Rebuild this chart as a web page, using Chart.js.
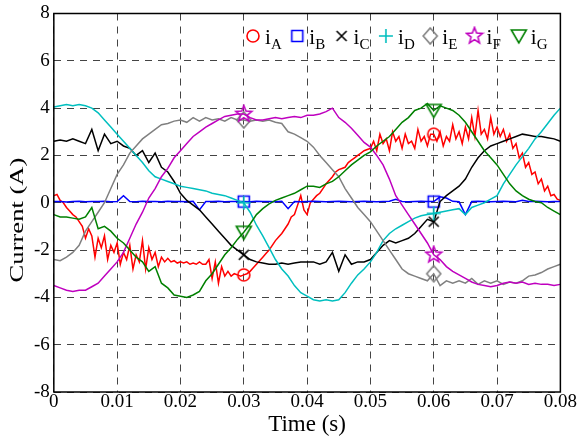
<!DOCTYPE html>
<html>
<head>
<meta charset="utf-8">
<script src="https://cdn.jsdelivr.net/npm/chart.js@4.4.1/dist/chart.umd.min.js"></script>
<style>
  html, body { margin: 0; padding: 0; background: #fff; }
</style>
</head>
<body>
<canvas id="myChart" width="578" height="437"></canvas>
<script>
// time axis in ms (1 ms step)
const timeMs = [0,1,2,3,4,5,6,7,8,9,10,11,12,13,14,15,16,17,18,19,20,21,22,23,24,25,26,27,28,29,30,
  31,32,33,34,35,36,37,38,39,40,41,42,43,44,45,46,47,48,49,50,51,52,53,54,55,56,57,58,59,60,
  61,62,63,64,65,66,67,68,69,70,71,72,73,74,75,76,77,78,79,80];

// iA is noisier, read at 0.5 ms
const timeMsFine = [0,0.5,1,1.5,2,2.5,3,3.5,4,4.5,5,5.5,6,6.5,7,7.5,8,8.5,9,9.5,
  10,10.5,11,11.5,12,12.5,13,13.5,14,14.5,15,15.5,16,16.5,17,17.5,18,18.5,19,19.5,
  20,20.5,21,21.5,22,22.5,23,23.5,24,24.5,25,25.5,26,26.5,27,27.5,28,28.5,29,29.5,
  30,30.5,31,31.5,32,32.5,33,33.5,34,34.5,35,35.5,36,36.5,37,37.5,38,38.5,39,39.5,
  40,40.5,41,41.5,42,42.5,43,43.5,44,44.5,45,45.5,46,46.5,47,47.5,48,48.5,49,49.5,
  50,50.5,51,51.5,52,52.5,53,53.5,54,54.5,55,55.5,56,56.5,57,57.5,58,58.5,59,59.5,
  60,60.5,61,61.5,62,62.5,63,63.5,64,64.5,65,65.5,66,66.5,67,67.5,68,68.5,69,69.5,
  70,70.5,71,71.5,72,72.5,73,73.5,74,74.5,75,75.5,76,76.5,77,77.5,78,78.5,79,79.5,80];

const iA = [0.3,0.35,0.1,0.0,-0.2,-0.35,-0.5,-0.6,-0.8,-1.0,
  -1.5,-1.1,-1.4,-2.3,-1.5,-1.9,-1.4,-2.4,-1.8,-2.1,
  -1.7,-2.6,-2.1,-2.4,-1.8,-2.8,-2.2,-2.5,-1.6,-2.8,
  -1.9,-2.4,-2.1,-2.7,-2.3,-2.5,-2.35,-2.5,-2.45,-2.55,
  -2.5,-2.55,-2.5,-2.6,-2.55,-2.6,-2.5,-2.6,-2.6,-2.4,
  -3.2,-2.5,-3.4,-2.7,-3.1,-2.9,-3.1,-3.0,-3.05,-3.1,
  -3.05,-3.0,-2.9,-2.75,-2.6,-2.45,-2.3,-2.15,-2.0,-1.8,
  -1.6,-1.45,-1.3,-1.1,-0.9,-0.6,-0.5,-0.1,0.3,-0.3,
  -0.5,0.0,0.15,0.3,0.4,0.6,0.8,0.95,1.1,1.3,
  1.4,1.45,1.5,1.7,1.8,1.9,2.0,2.1,2.2,2.25,
  2.3,2.6,2.2,2.9,2.5,2.7,2.2,3.0,2.6,2.8,
  2.3,2.9,2.5,2.6,2.3,3.1,2.6,2.8,2.4,2.9,
  2.9,2.6,3.0,2.4,2.8,2.6,3.3,2.7,3.0,2.5,
  3.2,2.7,3.6,2.8,3.9,2.9,3.1,2.7,3.6,2.9,
  3.2,2.8,3.1,2.6,2.9,2.3,2.5,1.9,2.1,1.5,
  1.7,1.2,1.3,0.8,1.0,0.5,0.7,0.3,0.35,0.15,0.1];

const iB = [0.05,0.05,0.03,0.05,0.06,0.04,0.05,0.05,0.06,0.04,0.05,0.3,0.05,0.04,0.06,0.05,0.05,0.04,0.06,0.05,
  0.05,0.04,0.06,-0.3,0.05,0.05,0.06,0.04,0.05,0.05,0.05,0.04,0.06,0.05,0.05,0.04,0.06,-0.25,0.05,0.04,
  0.05,0.06,0.05,0.04,0.05,0.06,0.05,0.04,0.05,0.06,0.05,0.04,0.05,0.06,0.15,0.05,0.04,0.05,0.06,0.05,
  0.05,0.25,0.2,0.06,0.04,-0.5,0.05,0.06,0.05,0.04,0.05,0.06,0.05,0.04,0.1,0.05,0.06,0.05,0.04,0.05,0.05];

const iC = [2.6,2.65,2.6,2.7,2.6,2.5,3.1,2.2,2.9,2.5,2.6,2.4,2.3,2.0,2.2,1.7,2.1,1.5,1.3,0.9,
  0.4,0.1,-0.1,-0.3,-0.6,-0.9,-1.2,-1.5,-1.8,-2.0,-2.2,-2.4,-2.5,-2.55,-2.6,-2.6,-2.55,-2.6,-2.55,-2.5,
  -2.5,-2.5,-2.6,-2.5,-2.1,-2.9,-2.2,-2.6,-2.5,-2.5,-2.4,-2.1,-1.8,-1.6,-1.7,-1.6,-1.5,-1.3,-1.0,-0.7,
  -0.8,0.05,0.3,0.5,0.7,1.0,1.5,1.9,2.2,2.4,2.5,2.6,2.7,2.8,2.9,2.85,2.8,2.8,2.75,2.7,2.6];

const iD = [4.05,4.1,4.15,4.1,4.15,4.1,4.0,3.8,3.5,3.2,2.9,2.6,2.3,2.0,1.7,1.35,1.1,1.0,0.9,0.8,
  0.7,0.65,0.6,0.55,0.5,0.4,0.35,0.3,0.2,0.1,0.0,-0.4,-0.95,-1.4,-1.9,-2.4,-2.8,-3.1,-3.5,-3.8,
  -3.95,-4.1,-4.15,-4.1,-4.15,-4.1,-3.8,-3.4,-3.05,-2.8,-2.5,-2.1,-1.6,-1.3,-1.1,-0.95,-0.8,-0.65,-0.55,-0.5,
  -0.45,-0.4,-0.35,-0.3,-0.25,-0.5,-0.2,-0.1,0.0,0.15,0.3,0.8,1.2,1.6,1.95,2.3,2.7,3.0,3.35,3.7,4.0];

const iE = [-2.4,-2.45,-2.3,-2.1,-1.8,-1.2,-0.8,-0.4,0.0,0.6,1.2,1.6,2.1,2.4,2.7,2.9,3.1,3.3,3.35,3.45,
  3.5,3.4,3.6,3.45,3.6,3.5,3.55,3.45,3.6,3.5,3.5,3.45,3.5,3.45,3.5,3.4,3.35,3.0,2.9,2.75,
  2.6,2.35,2.0,1.7,1.4,1.1,0.6,0.2,-0.2,-0.5,-0.8,-1.2,-1.6,-2.0,-2.4,-2.8,-3.0,-3.1,-3.2,-3.3,
  -3.0,-3.5,-3.3,-3.4,-3.3,-3.4,-3.2,-3.45,-3.3,-3.4,-3.3,-3.45,-3.35,-3.4,-3.3,-3.1,-3.05,-2.95,-2.8,-2.7,-2.6];

const iF = [-3.5,-3.6,-3.7,-3.75,-3.7,-3.7,-3.55,-3.4,-3.1,-2.8,-2.5,-2.1,-1.5,-0.9,-0.4,0.2,0.6,1.1,1.45,1.9,
  2.2,2.5,2.8,3.0,3.2,3.35,3.5,3.65,3.7,3.75,3.75,3.6,3.5,3.5,3.55,3.6,3.55,3.6,3.65,3.6,
  3.7,3.7,3.75,3.85,4.0,3.6,3.4,3.15,2.85,2.55,2.35,2.0,1.6,1.0,0.3,-0.1,-0.5,-0.9,-1.3,-1.7,
  -2.2,-2.4,-2.7,-2.9,-3.05,-3.2,-3.35,-3.45,-3.5,-3.55,-3.5,-3.4,-3.35,-3.4,-3.35,-3.45,-3.4,-3.45,-3.45,-3.5,-3.45];

const iG = [-0.5,-0.6,-0.6,-0.65,-0.7,-0.6,-0.2,-1.1,-1.0,-1.2,-1.5,-1.7,-2.0,-2.3,-2.5,-2.9,-2.7,-3.4,-3.6,-3.9,
  -3.95,-4.0,-3.9,-3.75,-3.3,-3.0,-2.6,-2.2,-1.9,-1.55,-1.25,-0.9,-0.5,-0.25,-0.05,0.1,0.2,0.3,0.4,0.55,
  0.7,0.7,0.65,0.8,0.9,1.1,1.35,1.6,1.8,2.0,2.15,2.4,2.6,2.8,3.1,3.4,3.6,3.9,4.0,4.2,
  3.9,4.1,4.0,3.9,3.7,3.4,3.0,2.6,2.2,1.9,1.6,1.2,0.8,0.5,0.3,0.15,0.05,0.0,-0.2,-0.35,-0.5];

const seriesNames = ['A', 'B', 'C', 'D', 'E', 'F', 'G'];
const seriesValues = [iA, iB, iC, iD, iE, iF, iG];
const seriesTimes = [timeMsFine, timeMs, timeMs, timeMs, timeMs, timeMs, timeMs];
const seriesColors = ['#ff0000', '#0000ff', '#000000', '#00bfbf', '#808080', '#bf00bf', '#008000'];
const markerKinds = ['circle', 'square', 'x', 'plus', 'diamond', 'star', 'tridown'];
const markerTimesMs = [30, 60];

const xTicks = [0, 0.01, 0.02, 0.03, 0.04, 0.05, 0.06, 0.07, 0.08];
const yTicks = [-8, -6, -4, -2, 0, 2, 4, 6, 8];

// small canvases used as hollow point markers
function makeMarker(kind, color) {
    const c = document.createElement('canvas');
    c.width = 20; c.height = 20;
    const g = c.getContext('2d');
    g.strokeStyle = color;
    g.lineWidth = 1.6;
    g.translate(10, 10);
    g.beginPath();
    if (kind === 'circle') {
        g.arc(0, 0, 6, 0, Math.PI * 2);
    } else if (kind === 'square') {
        g.rect(-5.5, -5.5, 11, 11);
    } else if (kind === 'x') {
        g.moveTo(-5, -5); g.lineTo(5, 5); g.moveTo(5, -5); g.lineTo(-5, 5);
    } else if (kind === 'plus') {
        g.moveTo(-7, 0); g.lineTo(7, 0); g.moveTo(0, -7); g.lineTo(0, 7);
    } else if (kind === 'diamond') {
        g.moveTo(0, -8); g.lineTo(7, 0); g.lineTo(0, 8); g.lineTo(-7, 0); g.closePath();
    } else if (kind === 'star') {
        for (let k = 0; k < 10; k++) {
            const r = k % 2 === 0 ? 8.5 : 3.6;
            const a = -Math.PI / 2 + k * Math.PI / 5;
            if (k === 0) g.moveTo(r * Math.cos(a), r * Math.sin(a));
            else g.lineTo(r * Math.cos(a), r * Math.sin(a));
        }
        g.closePath();
    } else if (kind === 'tridown') {
        g.moveTo(-7.5, -6); g.lineTo(7.5, -6); g.lineTo(0, 7); g.closePath();
    }
    g.stroke();
    return c;
}

const markers = seriesNames.map((n, i) => makeMarker(markerKinds[i], seriesColors[i]));
const isMarker = ctx => ctx.raw && markerTimesMs.includes(ctx.raw.ms);

const datasets = seriesNames.map((n, i) => ({
    label: 'i' + n,
    data: seriesValues[i].map((v, k) => ({ x: seriesTimes[i][k] / 1000, y: v, ms: seriesTimes[i][k] })),
    borderColor: seriesColors[i],
    borderWidth: 1.5,
    tension: 0,
    order: 6 - i,
    pointRadius: ctx => isMarker(ctx) ? 6 : 0,
    pointStyle: ctx => isMarker(ctx) ? markers[i] : 'circle',
    pointHoverRadius: 0
}));

const serif = '"Liberation Serif", "Times New Roman", serif';

// legend with subscripts, drawn inside the plot
const subLegend = {
    id: 'subLegend',
    afterDraw(chart) {
        const ctx = chart.ctx;
        ctx.save();
        ctx.fillStyle = '#000';
        ctx.textBaseline = 'alphabetic';
        seriesNames.forEach((n, i) => {
            const x0 = 253 + i * 44.3;
            ctx.drawImage(markers[i], x0 - 10, 36 - 10);
            ctx.font = '21px ' + serif;
            ctx.fillText('i', x0 + 12, 44);
            ctx.font = '15px ' + serif;
            ctx.fillText(n, x0 + 18, 49);
        });
        ctx.restore();
    }
};

// frame round the plot and the y axis title (stretched like the original)
const frame = {
    id: 'frame',
    afterDraw(chart) {
        const a = chart.chartArea;
        const ctx = chart.ctx;
        ctx.save();
        ctx.strokeStyle = '#000';
        ctx.lineWidth = 1.5;
        ctx.strokeRect(a.left, a.top, a.right - a.left, a.bottom - a.top);
        ctx.translate(18, 220);
        ctx.rotate(-Math.PI / 2);
        ctx.scale(1.4, 1);
        ctx.font = '19px ' + serif;
        ctx.fillStyle = '#000';
        ctx.textAlign = 'center';
        ctx.textBaseline = 'middle';
        ctx.fillText('Current (A)', 0, 0);
        ctx.restore();
    }
};

new Chart(document.getElementById('myChart').getContext('2d'), {
    type: 'line',
    data: { datasets },
    options: {
        responsive: false,
        animation: false,
        events: [],
        layout: { padding: { top: 2, right: -4, left: 30, bottom: 1 } },
        plugins: { legend: { display: false }, tooltip: { enabled: false } },
        scales: {
            x: {
                type: 'linear', min: 0, max: 0.08,
                afterBuildTicks: s => { s.ticks = xTicks.map(v => ({ value: v })); },
                ticks: {
                    color: '#000', font: { family: serif, size: 19, lineHeight: 1 }, padding: 1,
                    maxRotation: 0,
                    callback: v => v === 0 ? '0' : v.toFixed(2)
                },
                grid: { color: '#444', lineWidth: 1, drawTicks: false },
                border: { display: false, dash: [7, 6] },
                title: { display: true, text: 'Time (s)', color: '#000', font: { family: serif, size: 23, lineHeight: 1 }, padding: { top: 0, bottom: 0 } }
            },
            y: {
                min: -8, max: 8,
                afterBuildTicks: s => { s.ticks = yTicks.map(v => ({ value: v })); },
                ticks: { color: '#000', font: { family: serif, size: 19, lineHeight: 1 }, padding: 4 },
                grid: { color: '#444', lineWidth: 1, drawTicks: false },
                border: { display: false, dash: [7, 6] }
            }
        }
    },
    plugins: [subLegend, frame]
});
</script>
</body>
</html>
